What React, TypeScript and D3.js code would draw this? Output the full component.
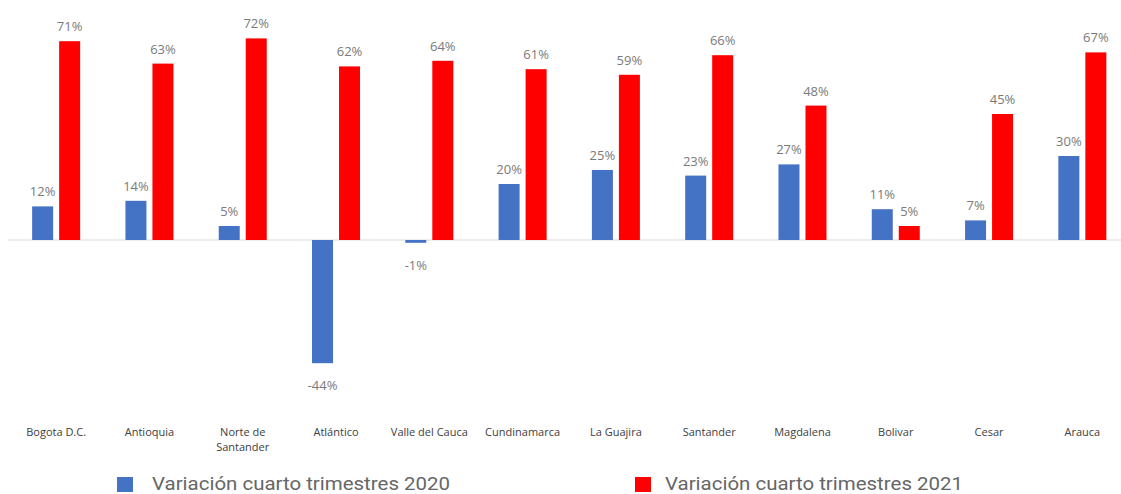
import React from "react";
import * as d3 from "d3";

const categories = ["Bogota D.C.", "Antioquia", "Norte de Santander", "Atlántico", "Valle del Cauca", "Cundinamarca", "La Guajira", "Santander", "Magdalena", "Bolivar", "Cesar", "Arauca"];
const series2020 = [12, 14, 5, -44, -1, 20, 25, 23, 27, 11, 7, 30];
const series2021 = [71, 63, 72, 62, 64, 61, 59, 66, 48, 5, 45, 67];
const seriesNames = ["Variación cuarto trimestres 2020", "Variación cuarto trimestres 2021"];
const colors = ["#4472C4", "#FF0000"];

const W = 1121;
const H = 494;

export default function App() {
  const x = d3.scaleBand<string>().domain(categories).range([9.5, 1129]).padding(0);
  const y = d3.scaleLinear().domain([-50, 75]).range([380, 30]);
  const y0 = y(0);
  const barW = 21;
  const gap = 6;
  const fmt = (v: number) => `${v}%`;
  const labelWrap = (c: string) => (c === "Norte de Santander" ? ["Norte de", "Santander"] : [c]);

  const all = [series2020, series2021];
  const legendX = [117, 635];
  const legendTextX = [152, 665];

  return (
    <svg width={W} height={H} style={{ position: "absolute", left: 0, top: 0, background: "#fff" }}>
      <line x1={8} x2={1121} y1={y0} y2={y0} stroke="#d9d9d9" strokeWidth={1} />
      {categories.map((c, i) => {
        const cx = (x(c) as number) + x.bandwidth() / 2;
        return (
          <g key={c}>
            {all.map((s, si) => {
              const v = s[i];
              const bx = si === 0 ? cx - gap / 2 - barW : cx + gap / 2;
              const top = Math.min(y(v), y0);
              const h = Math.abs(y(v) - y0);
              const ly = v >= 0 ? y(v) - 10 : y(v) + 27;
              return (
                <g key={si}>
                  <rect x={bx} y={top} width={barW} height={Math.max(h, 1.5)} fill={colors[si]} />
                  <text x={bx + barW / 2} y={ly} textAnchor="middle" fontFamily="Open Sans, sans-serif" fontSize={13} fill="#7a7a7a">
                    {fmt(v)}
                  </text>
                </g>
              );
            })}
            {labelWrap(c).map((ln, li) => (
              <text key={li} x={cx} y={436 + li * 15} textAnchor="middle" fontFamily="Open Sans, sans-serif" fontSize={11} fill="#404040">
                {ln}
              </text>
            ))}
          </g>
        );
      })}
      {seriesNames.map((n, i) => (
        <g key={n}>
          <rect x={legendX[i]} y={477} width={16} height={15} fill={colors[i]} />
          <text x={legendTextX[i]} y={490} fontFamily="Roboto, sans-serif" fontSize={18} fill="#666" textLength={298} lengthAdjust="spacingAndGlyphs">
            {n}
          </text>
        </g>
      ))}
    </svg>
  );
}
